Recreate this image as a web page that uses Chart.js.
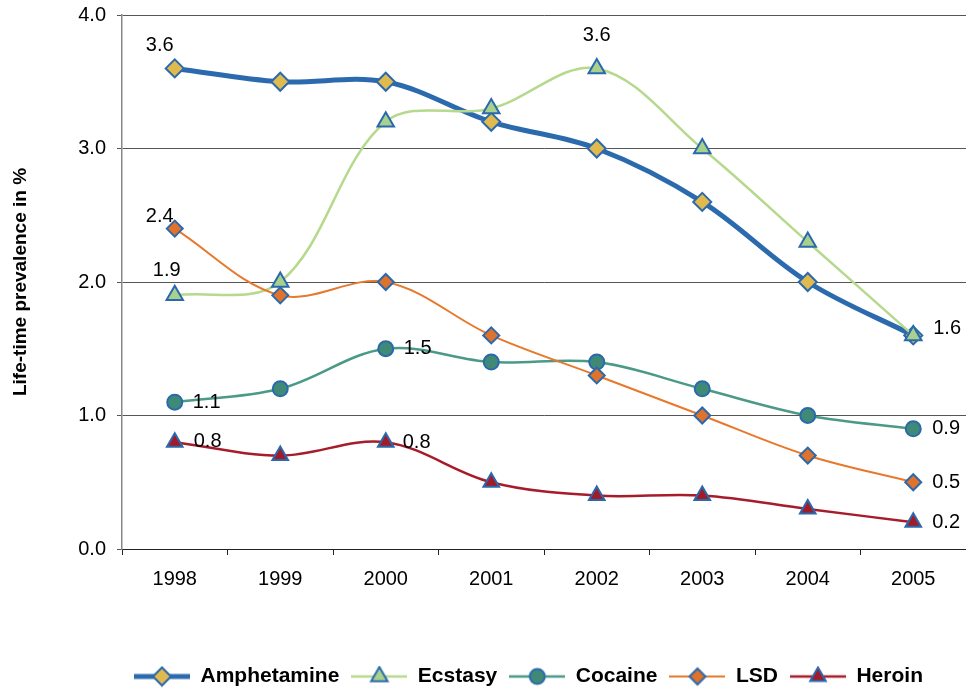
<!DOCTYPE html>
<html>
<head>
<meta charset="utf-8">
<script src="https://cdn.jsdelivr.net/npm/chart.js@4/dist/chart.umd.min.js"></script>
<style>
  html, body { margin: 0; padding: 0; background: #fff; }
  #wrap { width: 966px; height: 688px; }
</style>
</head>
<body>
<div id="wrap"><canvas id="drugChart" width="966" height="688"></canvas></div>
<script>
// Chart data
const years = ["1998", "1999", "2000", "2001", "2002", "2003", "2004", "2005"];
const amphetamine = [3.6, 3.5, 3.5, 3.2, 3.0, 2.6, 2.0, 1.6];
const ecstasy = [1.9, 2.0, 3.2, 3.3, 3.6, 3.0, 2.3, 1.6];
const cocaine = [1.1, 1.2, 1.5, 1.4, 1.4, 1.2, 1.0, 0.9];
const lsd = [2.4, 1.9, 2.0, 1.6, 1.3, 1.0, 0.7, 0.5];
const heroin = [0.8, 0.7, 0.8, 0.5, 0.4, 0.4, 0.3, 0.2];
const yTicks = [0, 1, 2, 3, 4];

const FONT = 'Arial, "Liberation Sans", sans-serif';
const MARKER_EDGE = "#2b69ad";

// which points get a value label: [dataset, point, dx, dy, align]
const valueLabels = [
  [0, 0, -15, -23, "center"],
  [1, 0, -8, -25, "center"],
  [3, 0, -15, -12, "center"],
  [1, 4, 0, -33, "center"],
  [1, 7, 20, -7, "left"],
  [2, 0, 18, 0, "left"],
  [2, 2, 18, 0, "left"],
  [2, 7, 19, 0, "left"],
  [3, 7, 19, 0, "left"],
  [4, 0, 19, -1, "left"],
  [4, 2, 17, 0, "left"],
  [4, 7, 19, 0, "left"]
];

function series(label, data, lineColor, lineWidth, style, fill, radius, order) {
  return {
    label: label,
    data: data,
    borderColor: lineColor,
    borderWidth: lineWidth,
    backgroundColor: fill,
    pointStyle: style,
    pointRadius: radius,
    pointHoverRadius: radius,
    pointBackgroundColor: fill,
    pointBorderColor: MARKER_EDGE,
    pointBorderWidth: 2,
    tension: 0.35,
    fill: false,
    order: order
  };
}

const datasets = [
  series("Amphetamine", amphetamine, "#2c6aae", 5, "rectRot", "#e0b94f", 9, 5),
  series("Ecstasy", ecstasy, "#b6d98d", 2.5, "triangle", "#a9d18e", 9.5, 4),
  series("Cocaine", cocaine, "#4b9987", 2.5, "circle", "#3f8a77", 7.5, 3),
  series("LSD", lsd, "#e8782b", 2, "rectRot", "#e0722a", 8, 2),
  series("Heroin", heroin, "#a61c2a", 2.5, "triangle", "#a11b28", 9, 1)
];

// legend icons: short line with the marker on top
function legendIcon(ds) {
  const c = document.createElement("canvas");
  c.width = 56;
  c.height = 22;
  const g = c.getContext("2d");
  g.strokeStyle = ds.borderColor;
  g.lineWidth = ds.borderWidth;
  g.beginPath();
  g.moveTo(0, 11);
  g.lineTo(56, 11);
  g.stroke();
  g.fillStyle = ds.pointBackgroundColor;
  g.strokeStyle = MARKER_EDGE;
  g.lineWidth = 2;
  Chart.helpers.drawPoint(g, { pointStyle: ds.pointStyle, radius: ds.pointRadius, rotation: 0, borderWidth: 2 }, 28, 11);
  return c;
}

const valueLabelPlugin = {
  id: "valueLabels",
  afterDatasetsDraw(chart) {
    const ctx = chart.ctx;
    ctx.save();
    ctx.font = "20px " + FONT;
    ctx.fillStyle = "#000";
    ctx.textBaseline = "middle";
    valueLabels.forEach(([d, i, dx, dy, align]) => {
      const pt = chart.getDatasetMeta(d).data[i];
      ctx.textAlign = align;
      ctx.fillText(chart.data.datasets[d].data[i].toFixed(1), pt.x + dx, pt.y + dy);
    });
    ctx.restore();
  }
};

const ctx = document.getElementById("drugChart").getContext("2d");
const drugChart = new Chart(ctx, {
  type: "line",
  data: { labels: years, datasets: datasets },
  plugins: [valueLabelPlugin],
  options: {
    responsive: false,
    animation: false,
    layout: { autoPadding: false, padding: { top: 15, right: 0, bottom: 0, left: 0 } },
    plugins: {
      tooltip: { enabled: false },
      legend: {
        position: "bottom",
        fullSize: false,
        align: "start",
        maxHeight: 34,
        labels: {
          usePointStyle: true,
          pointStyleWidth: 56,
          padding: 12,
          color: "#000",
          font: { family: FONT, size: 21, weight: "bold" },
          sort: (a, b) => a.datasetIndex - b.datasetIndex,
          generateLabels(chart) {
            const items = Chart.defaults.plugins.legend.labels.generateLabels(chart);
            items.forEach(item => { item.pointStyle = legendIcon(chart.data.datasets[item.datasetIndex]); });
            return items;
          }
        }
      }
    },
    scales: {
      x: {
        offset: true,
        grid: { offset: true, drawOnChartArea: false, drawTicks: true, tickLength: 6, color: "#222" },
        border: { color: "#222", width: 1 },
        ticks: { color: "#000", padding: 12, font: { family: FONT, size: 20 } },
        afterFit(scale) {
          scale.height = 105;
          scale.paddingLeft = 0;
          scale.paddingRight = 0;
        }
      },
      y: {
        min: 0,
        max: 4,
        afterBuildTicks(scale) { scale.ticks = yTicks.map(v => ({ value: v })); },
        grid: { color: "#555", lineWidth: 1, tickLength: 5 },
        border: { color: "#888", width: 1.5 },
        ticks: {
          color: "#000",
          padding: 11,
          font: { family: FONT, size: 20 },
          callback: v => v.toFixed(1)
        },
        title: {
          display: true,
          text: "Life-time prevalence in %",
          color: "#000",
          font: { family: FONT, size: 19, weight: "bold" },
          padding: { top: 9, bottom: 0 }
        },
        afterFit(scale) {
          scale.width = 122;
          scale.paddingTop = 0;
          scale.paddingBottom = 0;
        }
      }
    }
  }
});
</script>
</body>
</html>
